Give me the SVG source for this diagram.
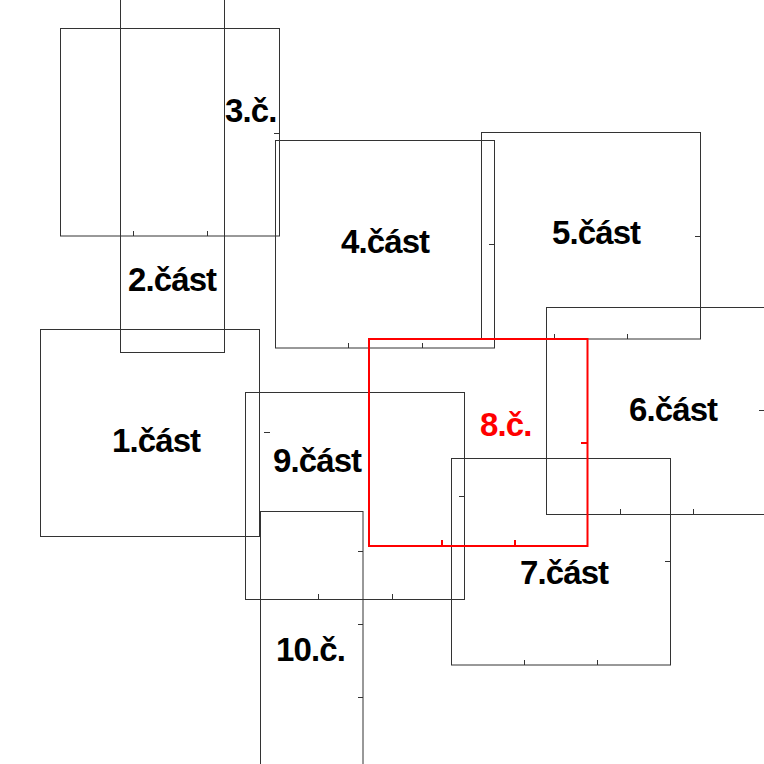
<svg xmlns="http://www.w3.org/2000/svg" width="764" height="764" viewBox="0 0 764 764">
<style>
.b{fill:none;stroke:#333;stroke-width:1}
.t{fill:none;stroke:#333;stroke-width:1}
.r{fill:none;stroke:#f00;stroke-width:2}
.l{font-family:"Liberation Sans",Arial,sans-serif;font-weight:bold;font-size:33px;letter-spacing:-0.9px;fill:#000}
.lr{fill:#f00}
</style>
<rect width="764" height="764" fill="#fff"/>
<g id="part1">
<rect class="b" x="40.5" y="329.5" width="219" height="207"/>
<line class="t" x1="264" y1="432.5" x2="270" y2="432.5"/>
<text class="l" x="112" y="452">1.část</text>
</g>
<g id="part2">
<rect class="b" x="120.5" y="-10" width="104" height="362.5"/>
<text class="l" x="128" y="291">2.část</text>
</g>
<g id="part3">
<rect class="b" x="60.5" y="28.5" width="219" height="207.5"/>
<path class="t" d="M133.5 231V236M207.5 231V236M274 133.5H279"/>
<text class="l" x="225" y="121.5">3.č.</text>
</g>
<g id="part4">
<rect class="b" x="275.5" y="140.5" width="219" height="207.5"/>
<path class="t" d="M348.5 343V348M422.5 343V348M489 244.5H495"/>
<text class="l" x="341" y="252.5">4.část</text>
</g>
<g id="part5">
<rect class="b" x="481.5" y="132.5" width="219" height="206.5"/>
<path class="t" d="M554.5 334V339M627.5 334V339M695 236.5H701"/>
<text class="l" x="552" y="243.5">5.část</text>
</g>
<g id="part6">
<rect class="b" x="546.5" y="307.5" width="220" height="207"/>
<path class="t" d="M620.5 509V514M693.5 509V514M759 410.5H764"/>
<text class="l" x="629" y="420.5">6.část</text>
</g>
<g id="part7">
<rect class="b" x="451.5" y="458.5" width="219" height="206.5"/>
<path class="t" d="M524.5 660V665M597.5 660V665M665 561.5H671"/>
<text class="l" x="520" y="583.5">7.část</text>
</g>
<g id="part9">
<rect class="b" x="245.5" y="392.5" width="219" height="207"/>
<path class="t" d="M318.5 594V599M392.5 594V599M459 496.5H465"/>
<text class="l" x="273" y="472">9.část</text>
</g>
<g id="part10">
<rect class="b" x="260.5" y="511.5" width="102.5" height="300"/>
<path class="t" d="M358 551.5H363M358 624.5H363M358 697.5H363"/>
<text class="l" x="276" y="660.5">10.č.</text>
</g>
<g id="part8">
<rect class="r" x="369" y="339" width="218.5" height="207"/>
<path class="r" d="M442 540V547M515 540V547M581 443H588"/>
<text class="l lr" x="480" y="436">8.č.</text>
</g>
<g id="connectors"></g>
</svg>
